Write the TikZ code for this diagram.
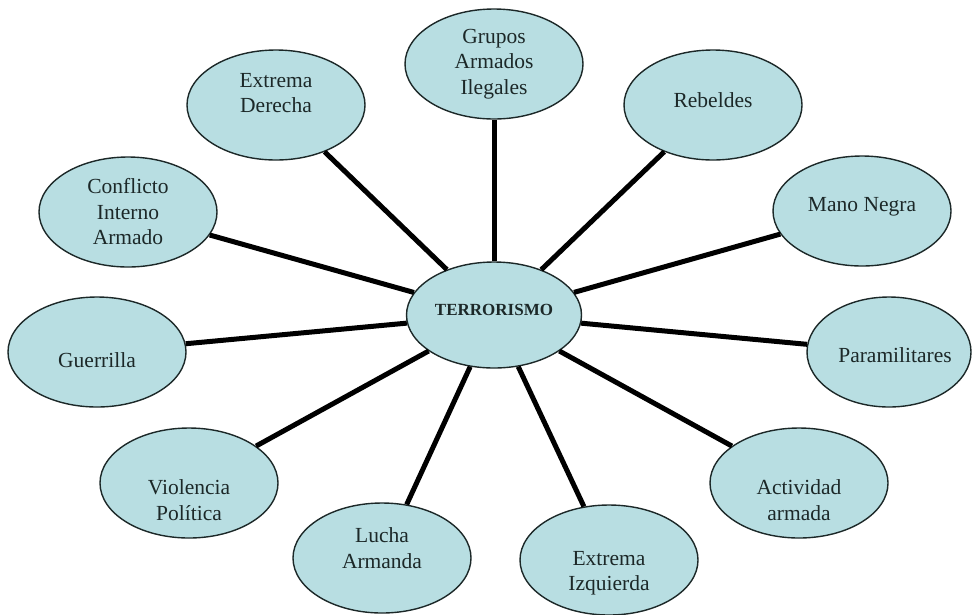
\documentclass[tikz,border=0pt]{standalone}
\usepackage{fontspec}
\setmainfont{Liberation Serif}
\usetikzlibrary{shapes.geometric}
\definecolor{bubfill}{RGB}{184,222,226}
\definecolor{inkcol}{RGB}{28,40,40}
\tikzset{
  bub/.style={ellipse, draw=inkcol, line width=1.4pt, fill=bubfill,
    minimum width=178pt, minimum height=110pt, inner sep=0pt},
  txt/.style={align=center, text=inkcol, font=\fontsize{21.5}{25.5}\selectfont, inner sep=0pt},
  hubtxt/.style={align=center, text=inkcol, font=\fontsize{17}{20}\selectfont\bfseries, inner sep=0pt},
  link/.style={line width=5pt, draw=black}
}
\begin{document}
\begin{tikzpicture}[x=1pt,y=-1pt]
\useasboundingbox (0,0) rectangle (973,614);
\node[bub, minimum width=175pt, minimum height=106pt,
  label={[hubtxt, yshift=5pt]center:TERRORISMO}] (hub) at (494,315) {};
\node[bub, label={[txt]center:Grupos\\Armados\\Ilegales}] (grupos) at (494,64) {};
\node[bub, label={[txt, yshift=12pt]center:Extrema\\Derecha}] (derecha) at (276,105) {};
\node[bub, label={[txt, yshift=5pt]center:Rebeldes}] (rebeldes) at (713,105) {};
\node[bub, label={[txt]center:Conflicto\\Interno\\Armado}] (conflicto) at (128,212) {};
\node[bub, label={[txt, yshift=4pt]center:Mano Negra}] (mano) at (862,211) {};
\node[bub, label={[txt, yshift=-8pt]center:Guerrilla}] (guerrilla) at (97,352) {};
\node[bub, minimum width=164pt, label={[txt, yshift=-3pt, xshift=6pt]center:Paramilitares}] (para) at (889,352) {};
\node[bub, label={[txt, yshift=-17pt]center:Violencia\\Política}] (violencia) at (189,483) {};
\node[bub, label={[txt, yshift=-17pt]center:Actividad\\armada}] (actividad) at (799,483) {};
\node[bub, label={[txt, yshift=10pt]center:Lucha\\Armanda}] (lucha) at (382,558) {};
\node[bub, label={[txt, yshift=-13pt]center:Extrema\\Izquierda}] (izquierda) at (609,560) {};
\foreach \n in {grupos,derecha,rebeldes,conflicto,mano,guerrilla,para,violencia,actividad,lucha,izquierda}
  \draw[link] (hub) -- (\n);
\end{tikzpicture}
\end{document}
